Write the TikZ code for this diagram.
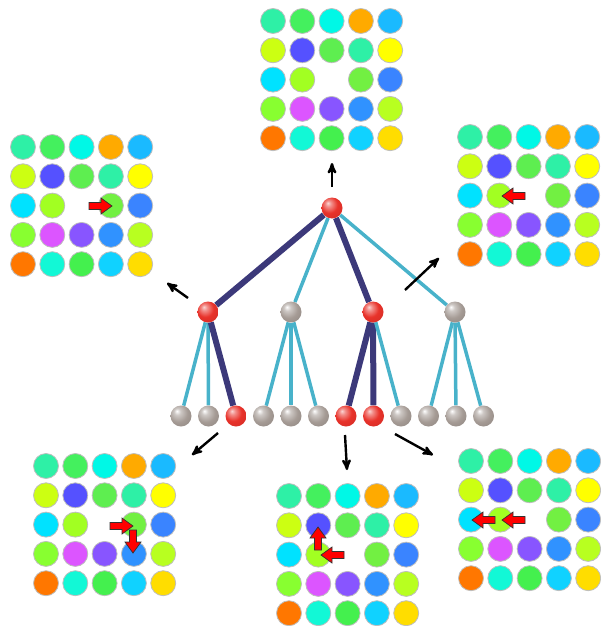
\documentclass[tikz,border=0pt]{standalone}
\usetikzlibrary{arrows}
\usetikzlibrary{backgrounds}
\usepackage{xcolor}

\definecolor{mint}{HTML}{2EF0A6}
\definecolor{leaf}{HTML}{44F05E}
\definecolor{aqua}{HTML}{00F8E6}
\definecolor{amber}{HTML}{FFAA00}
\definecolor{sky}{HTML}{1ABAFF}
\definecolor{chartr}{HTML}{CCFF12}
\definecolor{indigo}{HTML}{5551FF}
\definecolor{grass}{HTML}{5EEE50}
\definecolor{lemon}{HTML}{FFFF00}
\definecolor{cyanb}{HTML}{00E2FF}
\definecolor{limey}{HTML}{A2FF22}
\definecolor{fern}{HTML}{72F042}
\definecolor{azure}{HTML}{3A84FF}
\definecolor{spring}{HTML}{88FF30}
\definecolor{orchid}{HTML}{DC55FF}
\definecolor{grape}{HTML}{8855FF}
\definecolor{ocean}{HTML}{3092FF}
\definecolor{pear}{HTML}{B8FF20}
\definecolor{tangerine}{HTML}{FF7700}
\definecolor{turq}{HTML}{12F8D6}
\definecolor{emerald}{HTML}{44F04E}
\definecolor{capri}{HTML}{10D2FF}
\definecolor{gold}{HTML}{FFDD00}
\definecolor{rim}{HTML}{BEBEBE}
\definecolor{pathblue}{HTML}{3C397A}
\definecolor{linkblue}{HTML}{48B2CA}
\definecolor{pebble}{HTML}{A59B95}
\definecolor{ruby}{HTML}{E8322A}

\pgfdeclareradialshading{redsphere}{\pgfpoint{-10bp}{12bp}}{color(0bp)=(ruby!20!white); color(7bp)=(ruby!55!white); color(20bp)=(ruby); color(36bp)=(ruby!92!black); color(60bp)=(ruby!70!black)}
\pgfdeclareradialshading{greysphere}{\pgfpoint{-10bp}{12bp}}{color(0bp)=(white); color(8bp)=(pebble!55!white); color(22bp)=(pebble); color(38bp)=(pebble!88!black); color(60bp)=(pebble!70!black)}

\tikzset{
 board/.pic={
  \foreach \row [count=\j from 0] in {{mint,leaf,aqua,amber,sky},{chartr,indigo,grass,mint,lemon},{cyanb,limey,white,fern,azure},{spring,orchid,grape,ocean,pear},{tangerine,turq,emerald,capri,gold}} {
   \foreach \c [count=\i from 0] in \row {
    \ifnum\numexpr5*\j+\i\relax=12 \else
    \filldraw[fill=\c, draw=rim, line width=.8] ({29.3*\i},{29.3*\j}) circle (12.5pt);
    \fi
   }
  }
 },
 slide/.pic={
  \filldraw[fill=red, draw=black!80, line width=.7, line join=miter] (0,0) -- (-11,-8) -- (-11,-3.5) -- (-23,-3.5) -- (-23,3.5) -- (-11,3.5) -- (-11,8) -- cycle;
 },
 rball/.style={circle, minimum size=21pt, inner sep=0, shading=redsphere},
 gball/.style={circle, minimum size=21pt, inner sep=0, shading=greysphere},
 darkedge/.style={pathblue, line width=6},
 lightedge/.style={linkblue, line width=3.5},
 jump/.style={black, line width=2.4, ->, >=stealth'}
}

\begin{document}
\begin{tikzpicture}[x=1pt, y=-1pt]
\useasboundingbox (0,0) rectangle (600,626);
% boards
\pic at (273,21) {board};
\pic at (23,147) {board};
\pic at (470,137) {board};
\pic at (46,466) {board};
\pic at (289,496) {board};
\pic at (471,461) {board};
% moves
\pic at (112,206) {slide};
\pic[rotate=180] at (502,196) {slide};
\pic at (133,526) {slide};
\pic[rotate=-90] at (133,553) {slide};
\pic[rotate=180] at (321,555) {slide};
\pic[rotate=90] at (318,527) {slide};
\pic[rotate=180] at (502,520) {slide};
\pic[rotate=180] at (472,520) {slide};
% tree
\node[rball] (root) at (332,208) {};
\foreach \x/\s [count=\i] in {208/rball,291/gball,373/rball,455/gball}
 \node[\s] (mid\i) at (\x,312) {};
\foreach \s [count=\i] in {gball,gball,rball,gball,gball,gball,rball,rball,gball,gball,gball,gball}
 \node[\s] (leaf\i) at ({153.5+27.5*\i},416) {};
\begin{scope}[on background layer]
\foreach \a/\b/\s in {root/mid1/darkedge, root/mid2/lightedge, root/mid3/darkedge, root/mid4/lightedge,
 mid1/leaf1/lightedge, mid1/leaf2/lightedge, mid1/leaf3/darkedge,
 mid2/leaf4/lightedge, mid2/leaf5/lightedge, mid2/leaf6/lightedge,
 mid3/leaf7/darkedge, mid3/leaf8/darkedge, mid3/leaf9/lightedge,
 mid4/leaf10/lightedge, mid4/leaf11/lightedge, mid4/leaf12/lightedge}
 \draw[\s] (\a) -- (\b);
\end{scope}
% jumps
\coordinate (up0) at (332,187); \coordinate (up1) at (332,163);
\coordinate (lt0) at (188,298); \coordinate (lt1) at (167,283);
\coordinate (rt0) at (405,290); \coordinate (rt1) at (439,258);
\coordinate (bl0) at (218,433); \coordinate (bl1) at (192,455);
\coordinate (bm0) at (345,435); \coordinate (bm1) at (347,470);
\coordinate (br0) at (395,434); \coordinate (br1) at (433,455);
\foreach \a in {up,lt,rt,bl,bm,br}
 \draw[jump] (\a0) -- (\a1);
\end{tikzpicture}
\end{document}
